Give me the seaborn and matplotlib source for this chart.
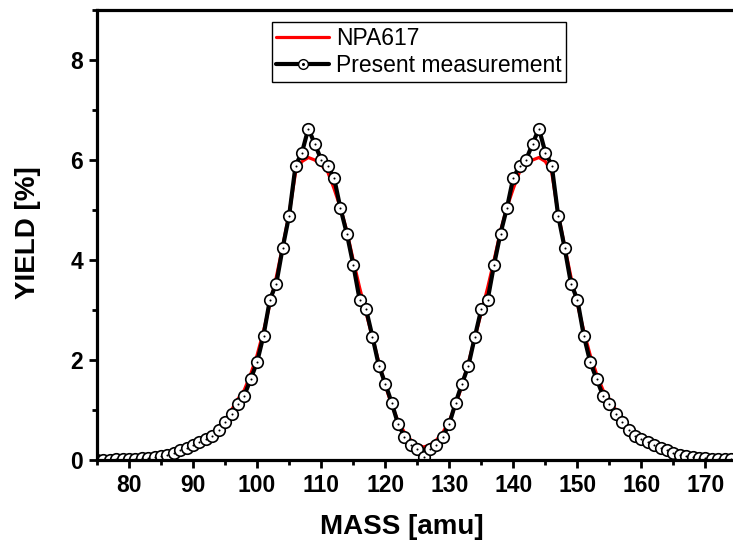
import numpy as np
import pandas as pd
import matplotlib
matplotlib.use("Agg")
import matplotlib.pyplot as plt
from matplotlib.lines import Line2D
from matplotlib.legend_handler import HandlerTuple
from matplotlib.ticker import MultipleLocator
import seaborn as sns

# Mass numbers (amu)
mass = list(range(75, 175))

# Present measurement: yield in percent for each mass
yield_measured = [
    0.01, 0.01, 0.01, 0.02, 0.02, 0.03, 0.03, 0.04, 0.05, 0.06,
    0.08, 0.11, 0.15, 0.20, 0.25, 0.31, 0.37, 0.43, 0.48, 0.60,
    0.77, 0.93, 1.13, 1.29, 1.62, 1.96, 2.49, 3.21, 3.53, 4.25,
    4.89, 5.89, 6.15, 6.63, 6.32, 6.01, 5.88, 5.65, 5.04, 4.53,
    3.91, 3.21, 3.02, 2.47, 1.89, 1.53, 1.15, 0.72, 0.47, 0.31,
    0.23, 0.07, 0.22, 0.31, 0.47, 0.72, 1.15, 1.53, 1.89, 2.47,
    3.02, 3.21, 3.91, 4.53, 5.04, 5.65, 5.88, 6.01, 6.32, 6.63,
    6.15, 5.89, 4.89, 4.25, 3.53, 3.21, 2.49, 1.96, 1.62, 1.29,
    1.13, 0.93, 0.77, 0.60, 0.48, 0.43, 0.37, 0.31, 0.25, 0.20,
    0.15, 0.11, 0.08, 0.06, 0.05, 0.04, 0.03, 0.03, 0.02, 0.02,
]

# NPA617 evaluation
yield_npa617 = [
    0.01, 0.01, 0.01, 0.02, 0.02, 0.03, 0.03, 0.04, 0.05, 0.06,
    0.08, 0.11, 0.14, 0.19, 0.25, 0.31, 0.37, 0.44, 0.52, 0.64,
    0.80, 1.00, 1.22, 1.40, 1.72, 2.10, 2.58, 3.12, 3.66, 4.28,
    4.93, 5.75, 5.97, 6.05, 6.00, 5.90, 5.77, 5.43, 5.05, 4.58,
    4.00, 3.45, 2.95, 2.45, 1.95, 1.50, 1.10, 0.78, 0.55, 0.40,
    0.30, 0.26, 0.30, 0.40, 0.55, 0.78, 1.10, 1.50, 1.95, 2.45,
    2.95, 3.45, 4.00, 4.58, 5.05, 5.43, 5.77, 5.90, 6.00, 6.05,
    5.97, 5.75, 4.93, 4.28, 3.66, 3.12, 2.58, 2.10, 1.72, 1.40,
    1.22, 1.00, 0.80, 0.64, 0.52, 0.44, 0.37, 0.31, 0.25, 0.19,
    0.14, 0.11, 0.08, 0.06, 0.05, 0.04, 0.03, 0.03, 0.02, 0.02,
]

df = pd.DataFrame({"mass": mass, "measured": yield_measured, "npa": yield_npa617})

sns.set_style("ticks")
plt.rcParams["font.family"] = ["Liberation Sans", "DejaVu Sans"]
plt.rcParams["text.color"] = "black"
plt.rcParams["axes.labelcolor"] = "black"
plt.rcParams["xtick.color"] = "black"
plt.rcParams["ytick.color"] = "black"

fig = plt.figure(figsize=(7.33, 5.49), dpi=100)
ax = fig.add_axes([97 / 733, 89 / 549, 636 / 733, 450 / 549])

sns.lineplot(data=df, x="mass", y="npa", ax=ax, color="red", linewidth=2.3,
             zorder=2)
sns.lineplot(data=df, x="mass", y="measured", ax=ax, color="black", linewidth=3.0,
             marker="o", markersize=8.3, markerfacecolor="white",
             markeredgecolor="black", markeredgewidth=1.2, zorder=3)
# small centre dot inside every open circle
sns.scatterplot(data=df, x="mass", y="measured", ax=ax, color="black", s=2.2,
                linewidth=0, zorder=4)

ax.set_xlim(75, 174.3)
ax.set_ylim(0, 9)
ax.xaxis.set_major_locator(MultipleLocator(10))
ax.xaxis.set_minor_locator(MultipleLocator(5))
ax.yaxis.set_major_locator(MultipleLocator(2))
ax.yaxis.set_minor_locator(MultipleLocator(1))

for side in ["left", "bottom", "top"]:
    ax.spines[side].set_linewidth(2.3)
    ax.spines[side].set_color("black")
    ax.spines[side].set_zorder(5)
ax.spines["right"].set_visible(False)

ax.tick_params(which="major", direction="out", length=6, width=2, labelsize=16.5,
               pad=4, color="black", labelcolor="black")
ax.tick_params(which="minor", direction="out", length=3.5, width=2, color="black")
ax.tick_params(top=False, right=False, which="both")
for lab in ax.get_xticklabels() + ax.get_yticklabels():
    lab.set_fontweight("bold")

ax.set_xlabel("MASS [amu]", fontsize=20, fontweight="bold", color="black")
ax.set_ylabel("YIELD [%]", fontsize=20, fontweight="bold", color="black")
ax.xaxis.set_label_coords(0.48, -0.12)
ax.yaxis.set_label_coords(-0.088, 0.505)

h_npa = Line2D([], [], color="red", linewidth=2.3)
h_line = Line2D([], [], color="black", linewidth=3.0, marker="o", markersize=7,
                markerfacecolor="white", markeredgecolor="black", markeredgewidth=1.0)
h_dot = Line2D([], [], linestyle="none", marker="o", markersize=1.2, color="black")
leg = ax.legend([h_npa, (h_line, h_dot)], ["NPA617", "Present measurement"],
                handler_map={tuple: HandlerTuple(ndivide=1)},
                loc="upper left", bbox_to_anchor=(0.275, 0.973), borderaxespad=0,
                fontsize=16.5, frameon=True, fancybox=False, framealpha=1,
                edgecolor="black", handlelength=2.3, handletextpad=0.3,
                labelspacing=0.2, borderpad=0.2)
leg.get_frame().set_linewidth(1.0)

fig.savefig("out.png", dpi=100)
